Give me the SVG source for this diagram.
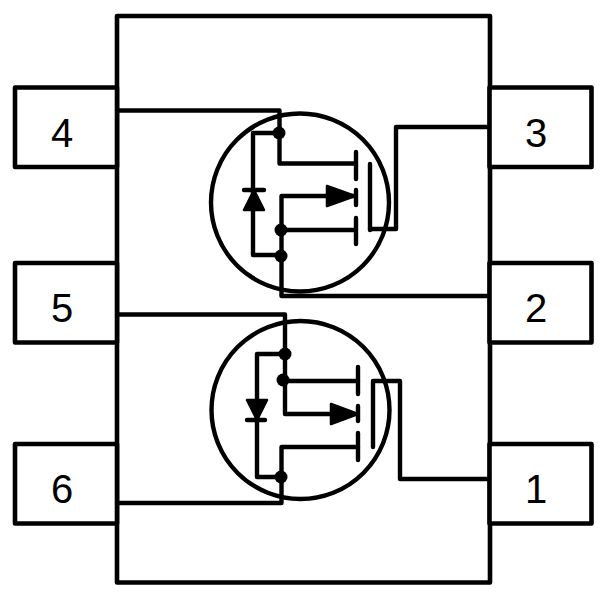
<svg xmlns="http://www.w3.org/2000/svg" width="606" height="597" viewBox="0 0 606 597">
<style>
.l{fill:none;stroke:#000;stroke-width:4.400;stroke-linejoin:round;stroke-linecap:round}
.b{fill:#fff;stroke:#000;stroke-width:4.600;stroke-linejoin:round}
.f{fill:#000;stroke:#000;stroke-width:2.500;stroke-linejoin:round}
.d{fill:#000}
text{font-family:"Liberation Sans",Arial,sans-serif;font-size:40px;fill:#000;text-anchor:middle}
</style>
<rect width="606" height="597" fill="#fff"/>
<g id="package"><rect class="b" x="117" y="16" width="373" height="566.500"/></g>
<g id="pin4"><rect class="b" x="15" y="87.500" width="102" height="79.500"/><text x="62" y="146.500">4</text></g>
<g id="pin5"><rect class="b" x="15" y="263" width="102" height="79.500"/><text x="62" y="322">5</text></g>
<g id="pin6"><rect class="b" x="15" y="444" width="102" height="79.500"/><text x="62" y="503">6</text></g>
<g id="pin3"><rect class="b" x="489.500" y="87.500" width="102" height="79.500"/><text x="536" y="146.500">3</text></g>
<g id="pin2"><rect class="b" x="489.500" y="263" width="102" height="79.500"/><text x="536" y="322">2</text></g>
<g id="pin1"><rect class="b" x="489.500" y="444" width="102" height="79.500"/><text x="536" y="502.500">1</text></g>
<g id="mosfet-top">
<circle class="l" cx="300" cy="202.500" r="89"/>
<path class="f" d="M327 186L355 196L327 206Z"/>
<path class="f" d="M244 210H264L254 190Z"/>
<path class="l" d="M244 190H264"/>
<circle class="d" cx="279" cy="133" r="6.500"/><circle class="d" cx="281" cy="230" r="6.500"/><circle class="d" cx="281" cy="256" r="6.500"/>
<path class="l" d="M356 152V179M356 190V205M356 218V244M370 164V230"/>
</g>
<g id="mosfet-bottom">
<circle class="l" cx="300.500" cy="410" r="89"/>
<path class="f" d="M331 404L358 414L331 424Z"/>
<path class="f" d="M247 400H267L257 420Z"/>
<path class="l" d="M247 420H265"/>
<circle class="d" cx="285" cy="354" r="6.500"/><circle class="d" cx="283" cy="380" r="6.500"/><circle class="d" cx="281" cy="477" r="6.500"/>
<path class="l" d="M358 367V394M358 406V421M358 433V460M373 382V447"/>
</g>
<g id="connectors">
<path class="l" d="M117 110.500H279.500V163.500H355"/>
<path class="l" d="M279 133H253V255H281"/>
<path class="l" d="M355 196H281.500V296H489"/>
<path class="l" d="M281 230H355"/>
<path class="l" d="M370 229H396V127H489"/>
<path class="l" d="M117 314.500H285V414H330"/>
<path class="l" d="M285 354H257V477H281"/>
<path class="l" d="M283 381H358"/>
<path class="l" d="M358 447H281.500V503H117"/>
<path class="l" d="M373 381H400V479H489"/>
</g>
</svg>
